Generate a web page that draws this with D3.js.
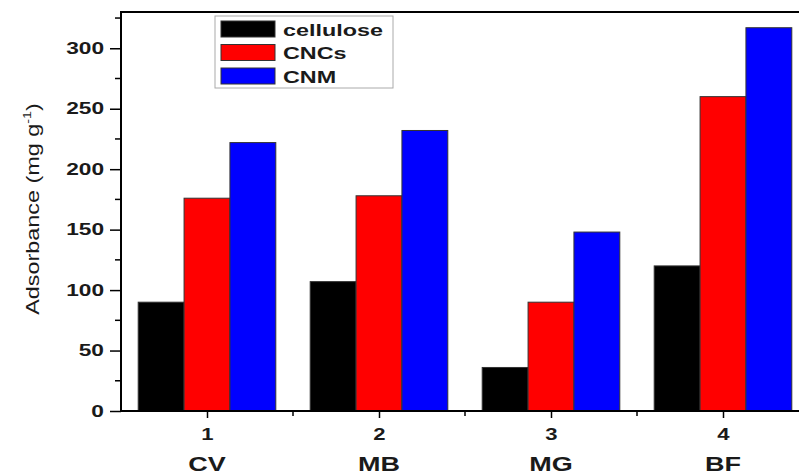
<!DOCTYPE html>
<html>
<head>
<meta charset="utf-8">
<script src="https://cdn.jsdelivr.net/npm/d3@7"></script>
<style>
html,body{margin:0;padding:0;background:#fff;}
svg{display:block;font-family:"Liberation Sans",Arial,sans-serif;}
</style>
</head>
<body>
<svg id="chart" width="799" height="475"></svg>
<script>
const positions = [1, 2, 3, 4];
const categories = ["CV", "MB", "MG", "BF"];
const seriesNames = ["cellulose", "CNCs", "CNM"];
const cellulose = [90, 107, 36, 120];
const cncs = [176, 178, 90, 260];
const cnm = [222, 232, 148, 317];
const yTicks = [0, 50, 100, 150, 200, 250, 300];
const yMinor = [25, 75, 125, 175, 225, 275, 325];
const xMinor = [1.5, 2.5, 3.5, 4.5];
const colors = ["#000000", "#ff0000", "#0000ff"];

const series = [cellulose, cncs, cnm];
const svg = d3.select("#chart");
const x = d3.scaleLinear().domain([0.5, 4.5]).range([121, 809]);
const y = d3.scaleLinear().domain([0, 330]).range([411, 12]);
const groupW = 0.8, barW = groupW / 3;

// horizontally stretch text (the reference image is stretched)
function stretch(sel, k) {
  sel.each(function () {
    const t = d3.select(this);
    const x0 = +t.attr("x") || 0;
    t.attr("transform", `translate(${x0},0) scale(${k},1) translate(${-x0},0)`);
  });
}

// bars
series.forEach((vals, si) => {
  svg.append("g").selectAll("rect").data(vals).join("rect")
    .attr("x", (d, i) => x(positions[i] - groupW / 2 + si * barW))
    .attr("width", (d, i) => x(positions[i] - groupW / 2 + (si + 1) * barW) - x(positions[i] - groupW / 2 + si * barW))
    .attr("y", d => y(d))
    .attr("height", d => y(0) - y(d))
    .attr("fill", colors[si])
    .attr("stroke", "#333")
    .attr("stroke-width", 1);
});

// y axis
const yAxis = svg.append("g").attr("transform", `translate(${x(0.5)},0)`)
  .call(d3.axisLeft(y).tickValues(yTicks).tickSize(11).tickPadding(6).tickFormat(d3.format("d")));
yAxis.select(".domain").remove();
yAxis.selectAll("line").attr("stroke", "#000").attr("stroke-width", 1.5);
yAxis.selectAll("text").attr("font-size", 16).attr("font-weight", "bold").attr("fill", "#1a1a1a")
  .attr("font-family", "Liberation Sans, Arial, sans-serif");
stretch(yAxis.selectAll("text"), 1.42);
svg.append("g").selectAll("line").data(yMinor).join("line")
  .attr("x1", x(0.5) - 6).attr("x2", x(0.5)).attr("y1", d => y(d)).attr("y2", d => y(d))
  .attr("stroke", "#000").attr("stroke-width", 1.5);

// x axis
const xAxis = svg.append("g").attr("transform", `translate(0,${y(0)})`)
  .call(d3.axisBottom(x).tickValues(positions).tickSize(7).tickPadding(10).tickFormat(d3.format("d")));
xAxis.select(".domain").remove();
xAxis.selectAll("line").attr("stroke", "#000").attr("stroke-width", 1.5);
xAxis.selectAll("text").attr("font-size", 17).attr("font-weight", "bold").attr("fill", "#1a1a1a")
  .attr("font-family", "Liberation Sans, Arial, sans-serif");
stretch(xAxis.selectAll("text"), 1.3);
svg.append("g").selectAll("line").data(xMinor).join("line")
  .attr("x1", d => x(d)).attr("x2", d => x(d)).attr("y1", y(0)).attr("y2", y(0) + 5)
  .attr("stroke", "#000").attr("stroke-width", 1.5);

// category labels
const cat = svg.append("g").selectAll("text").data(categories).join("text")
  .attr("x", (d, i) => x(positions[i])).attr("y", 471)
  .attr("text-anchor", "middle").attr("font-size", 20).attr("font-weight", "bold").attr("fill", "#1a1a1a")
  .text(d => d);
stretch(cat, 1.35);

// frame
svg.append("path")
  .attr("d", `M${x(4.5)},${y(330)}H${x(0.5)}V${y(0)}H${x(4.5)}V${y(330)}`)
  .attr("fill", "none").attr("stroke", "#000").attr("stroke-width", 2);

// y label
const yl = svg.append("text")
  .attr("transform", `translate(39,209) rotate(-90) scale(1.3,1)`)
  .attr("text-anchor", "middle").attr("font-size", 18).attr("fill", "#1a1a1a");
yl.append("tspan").text("Adsorbance (mg g");
yl.append("tspan").attr("dy", -8).attr("font-size", 11).text("-1");
yl.append("tspan").attr("dy", 8).text(")");

// legend
const lg = svg.append("g");
lg.append("rect").attr("x", 215).attr("y", 16).attr("width", 178).attr("height", 72)
  .attr("fill", "#fff").attr("stroke", "#aaa").attr("stroke-width", 1);
seriesNames.forEach((n, i) => {
  const yy = 21 + i * 23.5;
  lg.append("rect").attr("x", 221).attr("y", yy).attr("width", 54).attr("height", 16)
    .attr("fill", colors[i]).attr("stroke", "#333").attr("stroke-width", 1);
  const t = lg.append("text").attr("x", 283).attr("y", yy + 15).attr("font-size", 16)
    .attr("font-weight", "bold").attr("fill", "#1a1a1a").text(n);
  stretch(t, 1.46);
});
</script>
</body>
</html>
